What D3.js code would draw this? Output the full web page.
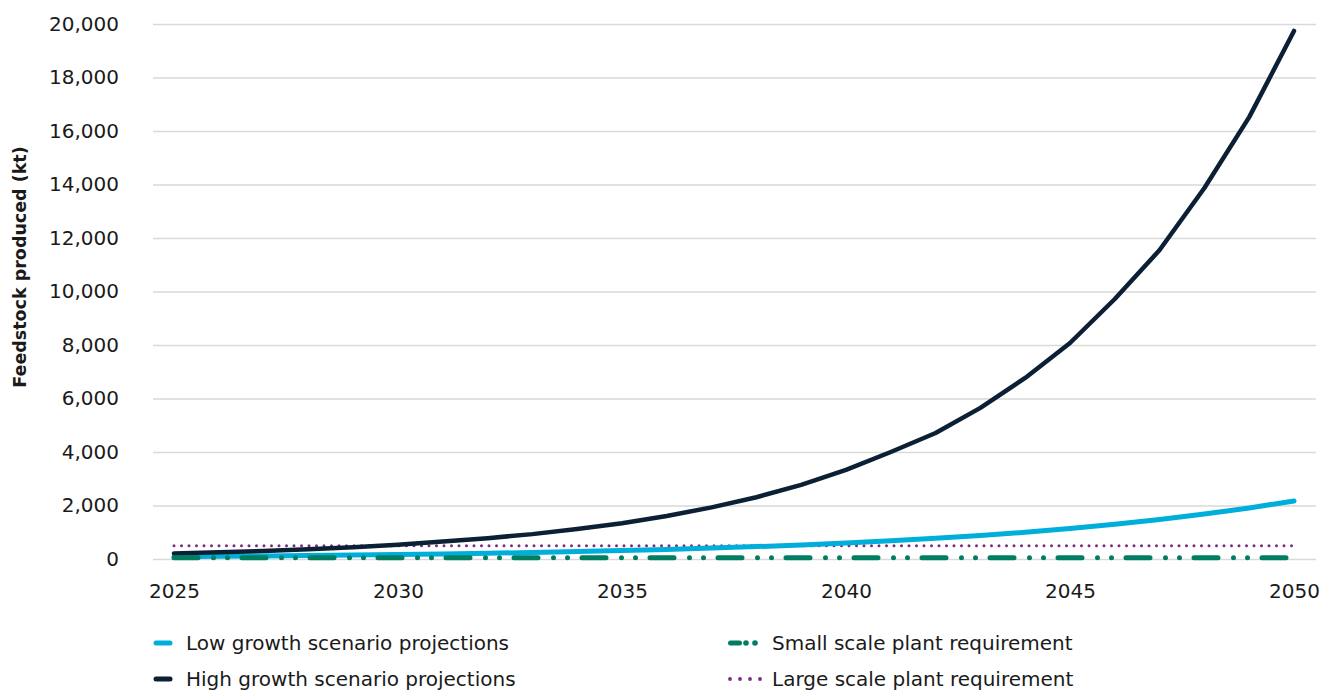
<!DOCTYPE html>
<html>
<head>
<meta charset="utf-8">
<script src="https://cdn.jsdelivr.net/npm/d3@7"></script>
<style>
  html, body { margin: 0; padding: 0; background: #ffffff; }
  svg { display: block; font-family: "DejaVu Sans", sans-serif; }
  svg text { font-family: "DejaVu Sans", sans-serif; }
</style>
</head>
<body>
<svg id="chart" width="1331" height="693"></svg>
<script>
// ---- data ----
const years = [2025,2026,2027,2028,2029,2030,2031,2032,2033,2034,2035,2036,2037,2038,2039,2040,2041,2042,2043,2044,2045,2046,2047,2048,2049,2050];
const lowGrowth = [87,99,113,128,146,166,188,214,244,277,315,358,407,463,527,600,680,775,880,1000,1140,1300,1475,1680,1910,2170];
const highGrowth = [210,250,300,365,440,535,650,780,930,1120,1340,1610,1930,2310,2770,3330,4000,4710,5650,6770,8075,9720,11550,13870,16520,19740];
const smallScale = [45,45,45,45,45,45,45,45,45,45,45,45,45,45,45,45,45,45,45,45,45,45,45,45,45,45];
const largeScale = [500,500,500,500,500,500,500,500,500,500,500,500,500,500,500,500,500,500,500,500,500,500,500,500,500,500];
const yTicks = [0,2000,4000,6000,8000,10000,12000,14000,16000,18000,20000];
const xTicks = [2025,2030,2035,2040,2045,2050];
const seriesNames = ["Low growth scenario projections","High growth scenario projections","Small scale plant requirement","Large scale plant requirement"];

// ---- layout ----
const svg = d3.select("#chart");
const gridLeft = 153, gridRight = 1316, plotTop = 24, plotBottom = 559;
const x = d3.scaleLinear().domain([2025, 2050]).range([174, 1294]);
const y = d3.scaleLinear().domain([0, 20000]).range([plotBottom, plotTop]);

// gridlines + y labels
const yAxis = svg.append("g")
  .attr("transform", `translate(${gridLeft},0)`)
  .call(d3.axisLeft(y).tickValues(yTicks).tickSize(-(gridRight - gridLeft)).tickPadding(34).tickFormat(d3.format(",")));
yAxis.attr("font-family", "DejaVu Sans");
yAxis.select(".domain").remove();
yAxis.selectAll(".tick line").attr("stroke", "#d9d9d9").attr("stroke-width", 1.3);
yAxis.selectAll(".tick text").attr("fill", "#1a1a1a").style("font-size", "20px");

// x labels
const xAxis = svg.append("g")
  .attr("transform", `translate(0,${plotBottom})`)
  .call(d3.axisBottom(x).tickValues(xTicks).tickSize(0).tickPadding(25).tickFormat(d3.format("d")));
xAxis.attr("font-family", "DejaVu Sans");
xAxis.select(".domain").remove();
xAxis.selectAll(".tick text").attr("fill", "#1a1a1a").style("font-size", "20px");

// y title
svg.append("text")
  .attr("transform", "translate(26,267) rotate(-90)")
  .attr("text-anchor", "middle")
  .style("font-size", "17.5px").style("font-weight", "bold").attr("fill", "#1a1a1a")
  .text("Feedstock produced (kt)");

const line = d3.line().x((d, i) => x(years[i])).y(d => y(d));

// series
const styles = [
  { data: lowGrowth, color: "#00aedb", width: 5, dash: null, cap: "round" },
  { data: highGrowth, color: "#0b1f35", width: 4.5, dash: null, cap: "round" },
  { data: smallScale, color: "#007e62", width: 5, dash: "24,15.5,0,14,0,14.5", cap: "round" },
  { data: largeScale, color: "#7b2a85", width: 3, dash: "0,7.5", cap: "round" }
];
[3, 0, 1, 2].forEach(k => {
  const s = styles[k];
  svg.append("path")
    .datum(s.data)
    .attr("d", line)
    .attr("fill", "none")
    .attr("stroke", s.color)
    .attr("stroke-width", s.width)
    .attr("stroke-linecap", s.cap)
    .attr("stroke-linejoin", "round")
    .attr("stroke-dasharray", s.dash);
});

// legend
const legendItems = [
  { name: seriesNames[0], x: 153, y: 643, k: 0 },
  { name: seriesNames[1], x: 153, y: 679, k: 1 },
  { name: seriesNames[2], x: 728, y: 643, k: 2 },
  { name: seriesNames[3], x: 728, y: 679, k: 3 }
];
legendItems.forEach(it => {
  const g = svg.append("g").attr("transform", `translate(${it.x},${it.y})`);
  const s = styles[it.k];
  if (it.k === 0 || it.k === 1) {
    g.append("line").attr("x1", 3).attr("x2", 17).attr("y1", 0).attr("y2", 0)
      .attr("stroke", s.color).attr("stroke-width", 5).attr("stroke-linecap", "round");
  } else if (it.k === 2) {
    g.append("line").attr("x1", 2.5).attr("x2", 11.5).attr("y1", 0).attr("y2", 0)
      .attr("stroke", s.color).attr("stroke-width", 5).attr("stroke-linecap", "round");
    g.append("circle").attr("cx", 18).attr("cy", 0).attr("r", 2.8).attr("fill", s.color);
    g.append("circle").attr("cx", 27).attr("cy", 0).attr("r", 2.8).attr("fill", s.color);
  } else {
    [2, 12, 22, 32].forEach(cx => g.append("circle").attr("cx", cx).attr("cy", 0).attr("r", 1.9).attr("fill", s.color));
  }
  g.append("text")
    .attr("x", it.k < 2 ? 33 : 44).attr("y", 0).attr("dy", "0.35em")
    .style("font-size", "20px").attr("fill", "#1a1a1a")
    .text(it.name);
});
</script>
</body>
</html>
